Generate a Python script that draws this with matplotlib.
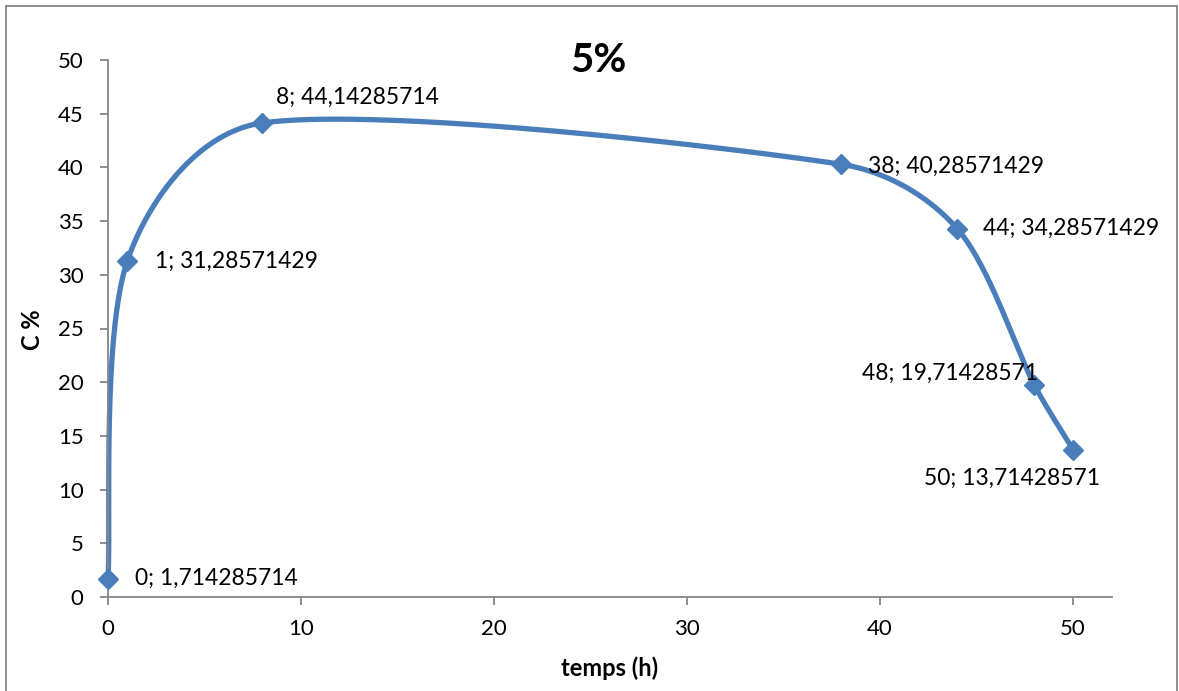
import numpy as np
import matplotlib.pyplot as plt
from matplotlib.patches import Rectangle

# mesures
temps = [0, 1, 8, 38, 44, 48, 50]
conc = [1.714285714, 31.28571429, 44.14285714, 40.28571429,
        34.28571429, 19.71428571, 13.71428571]
labels = ["0; 1,714285714", "1; 31,28571429", "8; 44,14285714",
          "38; 40,28571429", "44; 34,28571429", "48; 19,71428571",
          "50; 13,71428571"]
# décalage des étiquettes (pixels) et alignement
lbl_off = [(27, 0), (28, 0), (14, 26), (27, -2), (26, 0), (4, 12), (-61, -29)]
lbl_ha = ["left", "left", "left", "left", "left", "right", "center"]

plt.rcParams["font.family"] = ["Lato", "DejaVu Sans"]
blue = "#4A7EBB"
grey = "#868686"

fig = plt.figure(figsize=(11.79, 6.91), dpi=100)
ax = fig.add_axes([108 / 1179, 1 - 597 / 691, (1111.7 - 108) / 1179, (597 - 60) / 691])
ax.set_xlim(0, 52)
ax.set_ylim(0, 50)

# courbe lissée (Bézier en coordonnées écran, tangentes bornées par la corde)
pts = ax.transData.transform(np.column_stack([temps, conc]))
n = len(pts)
tang = []
for i in range(n):
    a = pts[max(i - 1, 0)]
    b = pts[min(i + 1, n - 1)]
    tang.append((b - a) / 6)
curve = []
t = np.linspace(0, 1, 80)[:, None]
for i in range(n - 1):
    p0, p3 = pts[i], pts[i + 1]
    chord = np.linalg.norm(p3 - p0) / 3
    t0, t1 = tang[i], tang[i + 1]
    t0 = t0 * min(1, chord / np.linalg.norm(t0))
    t1 = t1 * min(1, chord / np.linalg.norm(t1))
    c1 = p0 + t0
    c2 = p3 - t1
    seg = (1 - t) ** 3 * p0 + 3 * (1 - t) ** 2 * t * c1 + 3 * (1 - t) * t ** 2 * c2 + t ** 3 * p3
    curve.append(seg)
curve = ax.transData.inverted().transform(np.vstack(curve))
ax.plot(curve[:, 0], curve[:, 1], color=blue, lw=3.8, solid_capstyle="round",
        zorder=2, clip_on=False)
ax.plot(temps, conc, "D", color=blue, markersize=10.5, zorder=3, clip_on=False)

for x, y, s, off, ha in zip(temps, conc, labels, lbl_off, lbl_ha):
    ax.annotate(s, (x, y), xytext=off, textcoords="offset pixels",
                ha=ha, va="center", fontsize=16.5, color="black", zorder=4)

ax.set_xticks([0, 10, 20, 30, 40, 50])
ax.set_yticks(range(0, 55, 5))
for side in ["top", "right"]:
    ax.spines[side].set_visible(False)
for side in ["left", "bottom"]:
    ax.spines[side].set_color(grey)
    ax.spines[side].set_linewidth(1.3)
ax.tick_params(direction="out", length=5.5, width=1.3, color=grey, labelsize=16)
ax.tick_params(axis="y", pad=12)
ax.tick_params(axis="x", pad=10)

fig.text(598 / 1179, 1 - 60 / 691, "5%", fontsize=29, fontweight="bold",
         ha="center", va="center")
fig.text(610 / 1179, 1 - 668 / 691, "temps (h)", fontsize=17, fontweight="bold",
         ha="center", va="center")
fig.text(33 / 1179, 1 - 330 / 691, "C %", fontsize=17, fontweight="bold",
         ha="center", va="center", rotation=90)

fig.add_artist(Rectangle((6 / 1179, -0.02), 1171 / 1179, 1 - 6 / 691 + 0.02,
                         transform=fig.transFigure, fill=False,
                         edgecolor=grey, lw=1.3))

fig.savefig("out.png", dpi=100)
